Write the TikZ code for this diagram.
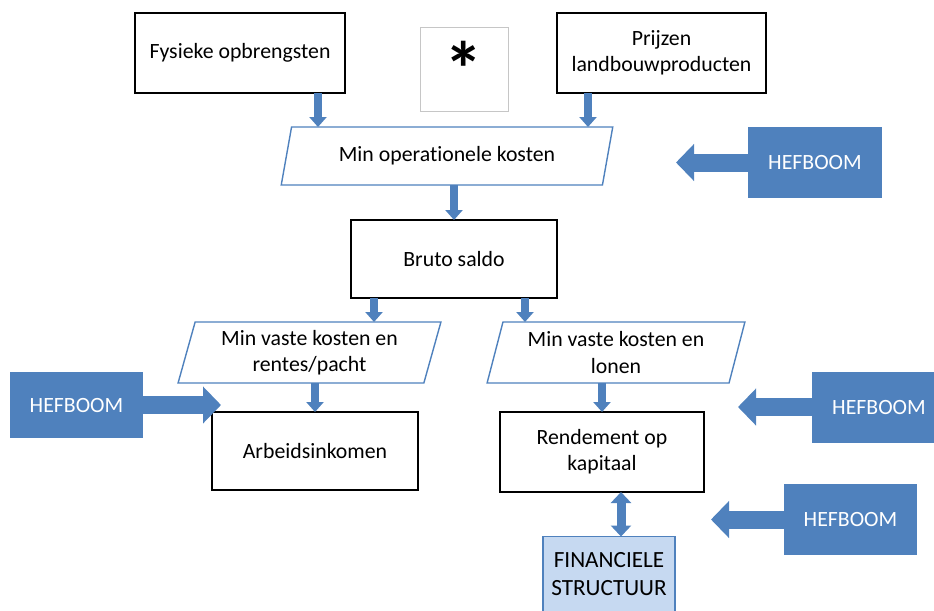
\documentclass[tikz,border=0pt]{standalone}
\usepackage{fontspec}
\setmainfont{Carlito}[Ligatures=NoCommon]
\usetikzlibrary{calc,shapes.geometric,arrows.meta}
\definecolor{hefblauw}{HTML}{4F81BD}
\definecolor{lichtblauw}{HTML}{C6D9F1}

\begin{document}
\begin{tikzpicture}[x=0.02cm,y=-0.02cm,every node/.style={outer sep=0pt,align=center,font=\fontsize{12.4}{14.8}\selectfont}]
	\tikzstyle{blok}=[draw,line width=1pt,minimum width=4.12cm,minimum height=1.56cm]
	\tikzstyle{schuin}=[trapezium,trapezium left angle=76,trapezium right angle=104,trapezium stretches=true,draw=hefblauw,line width=0.8pt]
	\tikzstyle{hefboom}=[fill=hefblauw,text=white,minimum width=2.68cm,minimum height=1.42cm]
	\tikzstyle{pijl}=[draw=hefblauw,line width=0.16cm,-{Triangle[width=0.34cm,length=0.2cm]}]
	\tikzstyle{dubbelpijl}=[draw=hefblauw,line width=0.18cm,{Triangle[width=0.4cm,length=0.22cm]}-{Triangle[width=0.4cm,length=0.22cm]}]
	\tikzstyle{hefpijl}=[draw=hefblauw,line width=0.36cm,-{Triangle[width=0.72cm,length=0.36cm]}]
	
	\useasboundingbox (0,0) rectangle (934,610);
	
	\node (fysiek) [blok,minimum width=4.2cm,minimum height=1.6cm] at (240,53) {Fysieke opbrengsten};		% opbrengsten
	\node (ster) [draw=gray!45,line width=0.4pt,minimum width=1.76cm,minimum height=1.68cm,font=\fontsize{44}{44}\selectfont\bfseries] at (464,69) {*};
	\node (prijzen) [blok,minimum width=4.18cm,minimum height=1.6cm] at (661.5,53) {Prijzen\\landbouwproducten};
	
	\node (opkost) [schuin,minimum width=6.64cm,minimum height=1.16cm] at (447,156) {Min operationele kosten};
	\node (bruto) [blok] at (454,259) {Bruto saldo};
	
	\node (vastL) [schuin,minimum width=5.26cm,minimum height=1.22cm] at (309.5,352.5) {Min vaste kosten en\\rentes/pacht};
	\node (vastR) [schuin,minimum width=5.16cm,minimum height=1.22cm] at (616,352.5) {Min vaste kosten en\\lonen};
	
	\node (arbeid) [blok] at (315,451) {Arbeidsinkomen};
	\node (rendement) [blok,minimum width=4.08cm,minimum height=1.6cm] at (602,452) {Rendement op\\kapitaal};
	\node (fin) [draw=hefblauw,fill=lichtblauw,line width=0.8pt,minimum width=2.64cm,minimum height=1.5cm,font=\fontsize{13.2}{16.2}\selectfont] at (609,574) {FINANCIELE\\STRUCTUUR};	% onderaan afgesneden
	
	% hefbomen
	\node (hef1) [hefboom] at (815,162.5) {HEFBOOM};
	\node (hef2) [hefboom,minimum height=1.32cm] at (76.5,405) {HEFBOOM};
	\node (hef3) [hefboom] at (879,407) {HEFBOOM};
	\node (hef4) [hefboom] at (850.5,519.5) {HEFBOOM};
	\coordinate (punt1) at (676,162.5);
	\coordinate (punt2) at (221,405);
	\coordinate (punt3) at (738,407);
	\coordinate (punt4) at (711,519.5);
	\draw [hefpijl] (hef1.west) -- (punt1);
	\draw [hefpijl] (hef2.east) -- (punt2);
	\draw [hefpijl] (hef3.west) -- (punt3);
	\draw [hefpijl] (hef4.west) -- (punt4);
	
	% verbindingen
	\draw [pijl] ([xshift=1.56cm]fysiek.south) -- ([xshift=1.56cm]fysiek.south |- opkost.north);
	\draw [pijl] ([xshift=-1.47cm]prijzen.south) -- ([xshift=-1.47cm]prijzen.south |- opkost.north);
	\draw [pijl] (bruto.north |- opkost.south) -- (bruto.north);
	\draw [pijl] ([xshift=-1.6cm]bruto.south) -- ([xshift=-1.6cm]bruto.south |- vastL.north);
	\draw [pijl] ([xshift=1.42cm]bruto.south) -- ([xshift=1.42cm]bruto.south |- vastR.north);
	\draw [pijl] (arbeid.north |- vastL.south) -- (arbeid.north);
	\draw [pijl] (rendement.north |- vastR.south) -- (rendement.north);
	\draw [dubbelpijl] ([xshift=0.24cm]fin.north) -- ([xshift=0.24cm]fin.north |- rendement.south);
\end{tikzpicture}
\end{document}
